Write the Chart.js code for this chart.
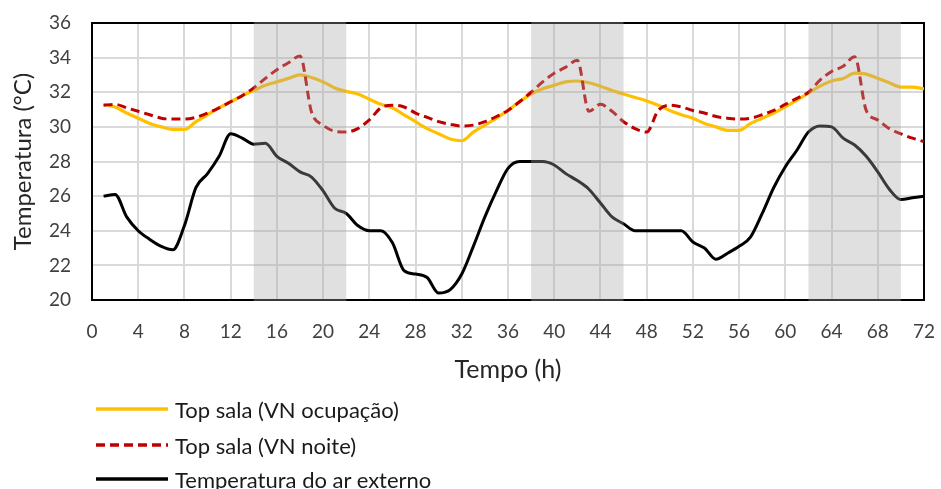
<!DOCTYPE html>
<html><head><meta charset="utf-8">
<script src="https://cdn.jsdelivr.net/npm/chart.js@4"></script>
<style>
html,body{margin:0;padding:0;background:#fff;}
#wrap{position:relative;width:941px;height:489px;overflow:hidden;}
#c{position:absolute;left:0;top:0;}
.lg{position:absolute;left:96px;height:30px;display:flex;align-items:center;font-family:Lato,"Open Sans",sans-serif;font-size:22px;color:#1a1a1a;white-space:nowrap;}
.lg svg{margin-right:7px;display:block;}
</style></head><body>
<div id="wrap"><canvas id="c" width="941" height="489"></canvas><div id="legend"></div></div>
<script>
const hours = [1,2,3,4,5,6,7,8,9,10,11,12,13,14,15,16,17,18,19,20,21,22,23,24,25,26,27,28,29,30,31,32,33,34,35,36,37,38,39,40,41,42,43,44,45,46,47,48,49,50,51,52,53,54,55,56,57,58,59,60,61,62,63,64,65,66,67,68,69,70,71,72];
const topSalaOcupacao = [31.3,31.15,30.8,30.5,30.2,30.0,29.85,29.85,30.3,30.7,31.1,31.45,31.8,32.1,32.4,32.6,32.8,33.0,32.85,32.6,32.25,32.05,31.9,31.6,31.3,31.1,30.7,30.3,29.9,29.6,29.3,29.2,29.7,30.1,30.5,30.95,31.45,31.9,32.2,32.4,32.6,32.65,32.55,32.35,32.1,31.9,31.7,31.5,31.25,30.95,30.7,30.5,30.2,30.0,29.8,29.8,30.2,30.5,30.8,31.15,31.55,31.95,32.35,32.65,32.8,33.1,33.05,32.8,32.55,32.3,32.3,32.2];
const topSalaNoite = [31.25,31.3,31.1,30.9,30.7,30.5,30.45,30.45,30.55,30.8,31.1,31.45,31.8,32.25,32.8,33.3,33.7,34.1,30.85,30.1,29.75,29.7,29.9,30.4,31.1,31.25,31.15,30.8,30.55,30.3,30.15,30.05,30.1,30.3,30.6,30.95,31.45,32.0,32.6,33.1,33.45,33.85,30.9,31.3,30.9,30.3,29.9,29.7,30.95,31.25,31.15,30.95,30.8,30.6,30.5,30.45,30.5,30.7,30.95,31.3,31.65,32.0,32.7,33.2,33.5,34.05,30.95,30.4,29.9,29.6,29.35,29.15];
const arExterno = [26.0,26.1,24.8,24.0,23.5,23.1,22.9,24.3,26.5,27.3,28.3,29.6,29.35,29.0,29.05,28.3,27.9,27.4,27.1,26.3,25.3,25.0,24.3,24.0,24.0,23.3,21.7,21.5,21.3,20.4,20.6,21.5,23.1,24.8,26.3,27.6,28.0,28.0,28.0,27.8,27.3,26.9,26.4,25.6,24.8,24.4,24.0,24.0,24.0,24.0,24.0,23.35,23.0,22.35,22.7,23.1,23.65,25.0,26.5,27.7,28.65,29.7,30.05,30.0,29.35,28.95,28.3,27.4,26.4,25.8,25.9,26.0];
const shadedPeriods = [[14,22],[38,46],[62,70]];
const xTicks = [0,4,8,12,16,20,24,28,32,36,40,44,48,52,56,60,64,68,72];
const yTicks = [20,22,24,26,28,30,32,34,36];
const seriesNames = ['Top sala (VN ocupação)','Top sala (VN noite)','Temperatura do ar externo'];

const FONT = 'Lato, "Open Sans", sans-serif';
const pts = arr => hours.map((h,i)=>({x:h,y:arr[i]}));
const noPad = s => { s.paddingTop=0; s.paddingBottom=0; s.paddingLeft=0; s.paddingRight=0; };

const framePlugin = {
  id:'frame',
  beforeDatasetsDraw(chart){
    const {ctx, chartArea:a} = chart;
    ctx.save();
    ctx.strokeStyle='#000'; ctx.lineWidth=2;
    ctx.strokeRect(a.left, a.top, a.right-a.left, a.bottom-a.top);
    ctx.restore();
  }
};
const bandPlugin = {
  id:'bands',
  afterDatasetsDraw(chart){
    const {ctx, chartArea:a, scales:{x}} = chart;
    ctx.save();
    ctx.fillStyle='rgba(166,166,166,0.35)';
    shadedPeriods.forEach(([s,e])=>{
      const x0=x.getPixelForValue(s), x1=x.getPixelForValue(e);
      ctx.fillRect(x0, a.top-1, x1-x0, a.bottom-a.top+2);
    });
    ctx.restore();
  }
};

const chart = new Chart(document.getElementById('c'), {
  type:'line',
  data:{datasets:[
    {label:seriesNames[0], data:pts(topSalaOcupacao), borderColor:'#FFC000', borderWidth:3.2, pointRadius:0, cubicInterpolationMode:'monotone', order:3},
    {label:seriesNames[1], data:pts(topSalaNoite), borderColor:'#C00000', borderWidth:3, borderDash:[9,5], pointRadius:0, cubicInterpolationMode:'monotone', order:2},
    {label:seriesNames[2], data:pts(arExterno), borderColor:'#000000', borderWidth:3, pointRadius:0, cubicInterpolationMode:'monotone', order:1}
  ]},
  options:{
    responsive:false, animation:false, devicePixelRatio:1,
    layout:{padding:{top:23,right:17,bottom:104,left:0}},
    plugins:{legend:{display:false}, tooltip:{enabled:false}},
    scales:{
      x:{type:'linear', min:0, max:72,
        afterBuildTicks(s){ s.ticks = xTicks.map(v=>({value:v})); },
        afterFit(s){ s.height = 85; noPad(s); },
        grid:{color:'#d9d9d9', lineWidth:2, drawTicks:false},
        border:{display:false},
        ticks:{padding:20, color:'#404040', font:{family:FONT, size:19}, maxRotation:0, autoSkip:false},
        title:{display:true, text:'Tempo (h)', color:'#262626', font:{family:FONT, size:25, lineHeight:1.2}, padding:{top:0,bottom:0}}
      },
      y:{min:20, max:36,
        afterBuildTicks(s){ s.ticks = yTicks.map(v=>({value:v})); },
        afterFit(s){ s.width = 92; noPad(s); },
        grid:{color:'#d9d9d9', lineWidth:2, drawTicks:false},
        border:{display:false},
        ticks:{padding:21, color:'#404040', font:{family:FONT, size:19}},
        title:{display:true, text:'Temperatura (°C)', color:'#262626', font:{family:FONT, size:24, lineHeight:1.2}, padding:{top:9,bottom:0}}
      }
    }
  },
  plugins:[framePlugin, bandPlugin]
});

// HTML legend built from the datasets
const legendTops = [394, 430, 464];
const lg = document.getElementById('legend');
chart.data.datasets.forEach((ds,i)=>{
  const row = document.createElement('div');
  row.className='lg'; row.style.top = legendTops[i]+'px';
  const dash = ds.borderDash ? ds.borderDash.join(' ') : 'none';
  row.innerHTML = '<svg width="72" height="6"><line x1="0" y1="3" x2="72" y2="3" stroke="'+ds.borderColor+'" stroke-width="3.5" stroke-dasharray="'+dash+'"/></svg>';
  const sp = document.createElement('span'); sp.textContent = ds.label; row.appendChild(sp);
  lg.appendChild(row);
});
</script>
</body></html>
